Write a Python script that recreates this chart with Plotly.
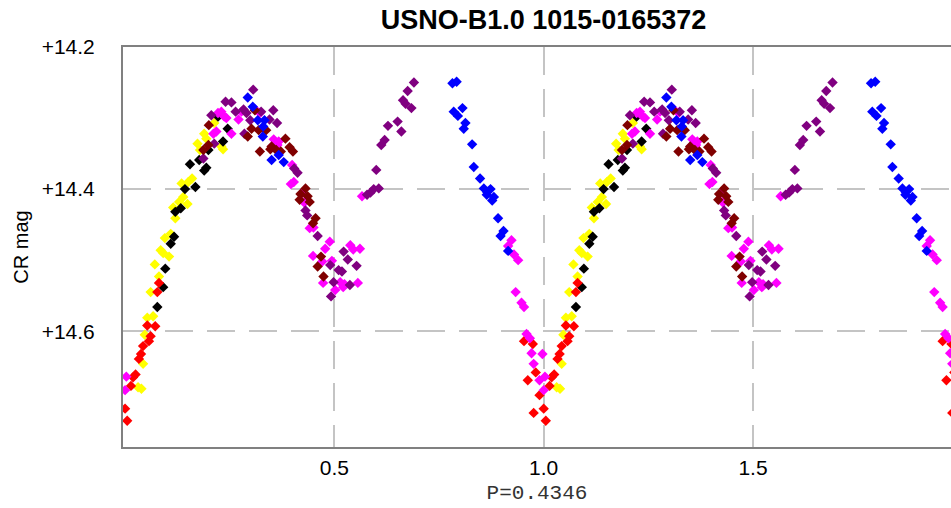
import plotly.graph_objects as go

title_text = "USNO-B1.0 1015-0165372"
x_label = "P=0.4346"
y_label = "CR mag"
x_tickvals = [0.5, 1.0, 1.5]
x_ticktext = ["0.5", "1.0", "1.5"]
y_tickvals = [14.2, 14.4, 14.6]
y_ticktext = ["+14.2", "+14.4", "+14.6"]

# phase (0-1) and magnitude for each colour group
red_phase = [0.053, 0.072, 0.061, 0.057, 0.043, 0.038, 0.033, 0.019, 0.025, 0.014, 0.000, 0.005,
             0.081, 0.077, 0.953, 0.974, 0.981, 0.962, 0.990, 0.976]
red_mag = [14.592, 14.593, 14.607, 14.614, 14.621, 14.632, 14.639, 14.665, 14.661, 14.677, 14.709, 14.726,
           14.532, 14.545, 14.614, 14.618, 14.658, 14.669, 14.690, 14.715]

yellow_phase = [0.053, 0.067, 0.047, 0.043, 0.031, 0.039, 0.139, 0.129, 0.149, 0.115, 0.120, 0.109,
                0.095, 0.085, 0.091, 0.105, 0.071, 0.081, 0.061, 0.213, 0.189, 0.194, 0.230, 0.234,
                0.173, 0.179, 0.160, 0.151, 0.135]
yellow_mag = [14.581, 14.579, 14.605, 14.646, 14.679, 14.681, 14.411, 14.418, 14.421, 14.426, 14.441, 14.463,
              14.469, 14.486, 14.490, 14.495, 14.506, 14.523, 14.545, 14.307, 14.322, 14.329, 14.340, 14.344,
              14.336, 14.345, 14.385, 14.390, 14.392]

black_phase = [0.222, 0.245, 0.234, 0.199, 0.177, 0.155, 0.189, 0.194, 0.143, 0.168, 0.133, 0.120,
               0.117, 0.109, 0.096, 0.091, 0.077]
black_mag = [14.298, 14.315, 14.333, 14.345, 14.359, 14.365, 14.374, 14.370, 14.400, 14.397, 14.427, 14.432,
             14.467, 14.477, 14.512, 14.538, 14.566]

magenta_phase = [0.230, 0.222, 0.237, 0.278, 0.322, 0.218, 0.211, 0.254, 0.242, 0.271, 0.355, 0.367,
                 0.364, 0.351, 0.311, 0.399, 0.403, 0.396, 0.423, 0.428, 0.441, 0.450, 0.489, 0.478,
                 0.449, 0.471, 0.494, 0.538, 0.545, 0.561, 0.473, 0.514, 0.524, 0.556, 0.502, 0.521,
                 0.566, 0.923, 0.915, 0.929, 0.939, 0.933, 0.947, 0.953, 0.959, 0.967, 0.971, 0.997,
                 0.976, 0.990, 0.003, 0.000]
magenta_mag = [14.291, 14.293, 14.298, 14.291, 14.293, 14.319, 14.322, 14.322, 14.300, 14.302, 14.330, 14.333,
               14.338, 14.340, 14.288, 14.366, 14.390, 14.393, 14.406, 14.419, 14.455, 14.454, 14.474, 14.484,
               14.494, 14.502, 14.501, 14.479, 14.485, 14.484, 14.532, 14.531, 14.534, 14.532, 14.542, 14.538,
               14.410, 14.472, 14.480, 14.492, 14.500, 14.545, 14.560, 14.566, 14.604, 14.610, 14.631, 14.632,
               14.646, 14.669, 14.664, 14.683]

purple_phase = [0.306, 0.240, 0.254, 0.206, 0.264, 0.290, 0.354, 0.283, 0.325, 0.285, 0.213, 0.187,
                0.299, 0.345, 0.363, 0.404, 0.412, 0.431, 0.435, 0.460, 0.490, 0.522, 0.532, 0.510,
                0.518, 0.553, 0.498, 0.537, 0.492, 0.600, 0.586, 0.606, 0.594, 0.578, 0.690, 0.675,
                0.664, 0.670, 0.684, 0.651, 0.628, 0.660, 0.620, 0.612]
purple_mag = [14.260, 14.277, 14.278, 14.296, 14.291, 14.293, 14.289, 14.288, 14.291, 14.322, 14.336, 14.357,
              14.303, 14.302, 14.307, 14.371, 14.377, 14.430, 14.437, 14.466, 14.507, 14.488, 14.499, 14.514,
              14.516, 14.508, 14.531, 14.535, 14.551, 14.373, 14.405, 14.399, 14.400, 14.408, 14.250, 14.262,
              14.275, 14.280, 14.286, 14.305, 14.311, 14.319, 14.331, 14.338]

darkred_phase = [0.310, 0.200, 0.302, 0.293, 0.334, 0.199, 0.187, 0.322, 0.350, 0.319, 0.337, 0.383,
                 0.347, 0.361, 0.372, 0.393, 0.401, 0.431, 0.419, 0.436, 0.417, 0.441, 0.455, 0.449,
                 0.468, 0.460, 0.474]
darkred_mag = [14.289, 14.310, 14.315, 14.326, 14.317, 14.338, 14.345, 14.347, 14.340, 14.317, 14.317, 14.329,
               14.344, 14.345, 14.347, 14.341, 14.347, 14.399, 14.407, 14.410, 14.415, 14.418, 14.441, 14.448,
               14.495, 14.509, 14.523]

blue_phase = [0.293, 0.305, 0.330, 0.317, 0.333, 0.329, 0.350, 0.367, 0.379, 0.782, 0.792, 0.785,
              0.795, 0.806, 0.813, 0.809, 0.829, 0.833, 0.848, 0.857, 0.865, 0.873, 0.864, 0.881,
              0.877, 0.891, 0.904, 0.897, 0.915]
blue_mag = [14.271, 14.284, 14.312, 14.303, 14.303, 14.326, 14.359, 14.352, 14.362, 14.251, 14.249, 14.291,
            14.297, 14.286, 14.307, 14.315, 14.337, 14.369, 14.385, 14.399, 14.404, 14.400, 14.408, 14.411,
            14.416, 14.441, 14.459, 14.466, 14.487]

groups = [
    ("yellow", yellow_phase, yellow_mag, "#ffff00"),
    ("black", black_phase, black_mag, "#000000"),
    ("red", red_phase, red_mag, "#ff0000"),
    ("magenta", magenta_phase, magenta_mag, "#ff00ff"),
    ("purple", purple_phase, purple_mag, "#800080"),
    ("darkred", darkred_phase, darkred_mag, "#800000"),
    ("blue", blue_phase, blue_mag, "#0000ff"),
]

fig = go.Figure()
for name, ph, mg, col in groups:
    xs = list(ph) + [p + 1 for p in ph]
    ys = list(mg) + list(mg)
    fig.add_trace(go.Scatter(
        x=xs, y=ys, mode="markers", name=name,
        marker=dict(symbol="diamond", size=8, color=col, line=dict(width=0)),
        showlegend=False, cliponaxis=True,
    ))

grid_col = "#c4c4c4"
fig.update_layout(
    width=951, height=508,
    margin=dict(l=123, r=0, t=47, b=61),
    paper_bgcolor="white", plot_bgcolor="white",
    title=dict(text="<b>" + title_text + "</b>", x=0.5715, xref="container", xanchor="center",
               y=0.962, yref="container", yanchor="middle",
               font=dict(family="Liberation Sans, Arial", size=27, color="#000000")),
    font=dict(family="Liberation Sans, Arial", size=21, color="#000000"),
)
fig.update_xaxes(
    range=[-0.005, 1.973], tickvals=x_tickvals, ticktext=x_ticktext,
    showgrid=True, gridcolor=grid_col, gridwidth=2, griddash="28px,14px",
    showline=True, linecolor="#808080", linewidth=2, mirror=True,
    ticks="", zeroline=False, ticklabelstandoff=1,
    title=dict(text=x_label, standoff=6,
               font=dict(family="Liberation Mono, Courier New", size=21, color="#333333")),
)
fig.update_yaxes(
    range=[14.763, 14.2], tickvals=y_tickvals, ticktext=y_ticktext,
    showgrid=True, gridcolor=grid_col, gridwidth=2, griddash="28px,14px",
    showline=True, linecolor="#808080", linewidth=2, mirror=False,
    ticks="", zeroline=False, ticklabelstandoff=22,
    title=dict(text=y_label, standoff=8,
               font=dict(family="Liberation Sans, Arial", size=20, color="#000000")),
)
fig.write_html("out.html")
